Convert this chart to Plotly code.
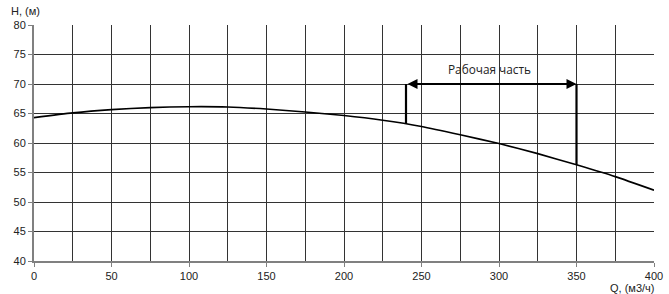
import numpy as np
import plotly.graph_objects as go

# Pump curve data
q_values = [0, 25, 50, 75, 100, 125, 150, 175, 200, 225, 250, 275, 300, 325, 350, 375, 400]
h_values = [64.3, 65.1, 65.65, 66.0, 66.15, 66.1, 65.75, 65.25, 64.65, 63.85, 62.8, 61.4, 59.9, 58.2, 56.3, 54.3, 52.0]

# Working range
work_q = [240, 350]
work_h_top = 70
work_label = "Рабочая часть"

x_ticks = [0, 50, 100, 150, 200, 250, 300, 350, 400]
y_ticks = [40, 45, 50, 55, 60, 65, 70, 75, 80]

W, H = 669, 294
ML, MR, MT, MB = 34, 15, 25, 33
PW, PH = W - ML - MR, H - MT - MB


def px_x(px):
    return (px - ML) / PW


def px_y(py):
    return (H - MB - py) / PH


fig = go.Figure()

fig.add_trace(go.Scatter(x=q_values, y=h_values, mode="lines",
                         line=dict(color="black", width=1.6, shape="spline", smoothing=0.6),
                         showlegend=False, hoverinfo="skip"))

work_h_bottom = list(np.interp(work_q, q_values, h_values))
for q, hb in zip(work_q, work_h_bottom):
    fig.add_trace(go.Scatter(x=[q, q], y=[hb, work_h_top], mode="lines",
                             line=dict(color="black", width=2.2),
                             showlegend=False, hoverinfo="skip"))

annotations = [
    dict(x=work_q[1], y=work_h_top, ax=work_q[0], ay=work_h_top,
         xref="x", yref="y", axref="x", ayref="y",
         text="", showarrow=True, arrowhead=2, arrowside="end+start",
         arrowwidth=2, arrowsize=1, arrowcolor="black"),
    dict(x=(work_q[0] + work_q[1]) / 2 - 1, y=work_h_top + 2.6, xref="x", yref="y",
         text=work_label, showarrow=False,
         font=dict(family="Open Sans", size=11.8, color="#222")),
    dict(x=px_x(9), y=px_y(11), xref="paper", yref="paper", text="H, (м)",
         showarrow=False, xanchor="left", yanchor="middle",
         font=dict(family="Liberation Sans", size=11, color="#222")),
    dict(x=px_x(656), y=px_y(288), xref="paper", yref="paper", text="Q, (м3/ч)",
         showarrow=False, xanchor="right", yanchor="middle",
         font=dict(family="Liberation Sans", size=11, color="#222")),
]

fig.update_layout(
    width=W, height=H,
    margin=dict(l=ML, r=MR, t=MT, b=MB, autoexpand=False),
    paper_bgcolor="white", plot_bgcolor="white",
    font=dict(family="Liberation Sans", size=11, color="#222"),
    annotations=annotations,
    xaxis=dict(range=[0, 400], tickvals=x_ticks, showgrid=True, automargin=False,
               gridcolor="#333333", gridwidth=1,
               minor=dict(dtick=25, showgrid=True, gridcolor="#333333", gridwidth=1),
               showline=True, linecolor="#808080", linewidth=2,
               ticks="outside", ticklen=4, tickcolor="#808080", tickwidth=1,
               zeroline=False),
    yaxis=dict(range=[40, 80], tickvals=y_ticks, showgrid=True, automargin=False,
               gridcolor="#333333", gridwidth=1,
               showline=True, linecolor="#808080", linewidth=2,
               ticks="outside", ticklen=4, tickcolor="#808080", tickwidth=1,
               zeroline=False),
)

fig.write_html("out.html")
